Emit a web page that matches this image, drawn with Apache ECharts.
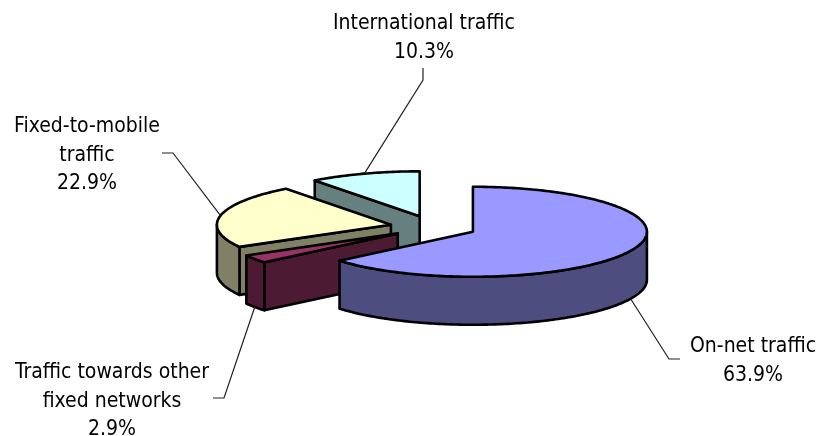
<!DOCTYPE html>
<html><head><meta charset="utf-8">
<style>html,body{margin:0;padding:0;background:#fff}#c{width:821px;height:436px}</style>
<script src="https://cdn.jsdelivr.net/npm/echarts@6/dist/echarts.min.js"></script>
</head><body><div id="c"></div>
<script>
// Data, clockwise from 12 o'clock
const categories = ['On-net traffic', 'Traffic towards other\nfixed networks', 'Fixed-to-mobile\ntraffic', 'International traffic'];
const shares = [63.9, 2.9, 22.9, 10.3];

// Styles and layout
const topColors = ['#9999FF', '#993366', '#FFFFCC', '#CCFFFF'];
const sideColors = ['#4D4D80', '#4D1A33', '#808066', '#668080'];
const labelCentres = [[753, 346.5], [112, 372.5], [87, 126.5], [424, 23.5]];
const elbows = [[[669, 359], [680, 359]], [[224, 398], [213, 398]], [[173, 153], [162, 153]], [[423, 80], [423, 68]]];
const drawOrder = [3, 2, 1, 0];
const CX = 433.5, CY = 227, RX = 174, RY = 45, DEPTH = 48, EXPLODE = 0.25;
const FONT = '21px "DejaVu Sans Condensed", "DejaVu Sans", sans-serif', LINE_H = 28.7;

const total = shares.reduce((a, b) => a + b, 0);
let acc = 0;
const slices = shares.map((v, i) => {
  const a = acc / total * 360; acc += v; const b = acc / total * 360;
  const m = (a + b) / 2;
  return { i, a, b, m, ax: CX + EXPLODE * RX * sinD(m), ay: CY - EXPLODE * RY * cosD(m) };
});
function sinD(d) { return Math.sin(d * Math.PI / 180); }
function cosD(d) { return Math.cos(d * Math.PI / 180); }
function rim(s, d, dz) { return [s.ax + RX * sinD(d), s.ay - RY * cosD(d) + (dz || 0)]; }
function arc(s, from, to, dz) {
  const pts = [], n = Math.max(1, Math.ceil(Math.abs(to - from)));
  for (let k = 0; k <= n; k++) pts.push(rim(s, from + (to - from) * k / n, dz));
  return pts;
}
function poly(points, fill, z2) {
  return { type: 'polygon', z2, shape: { points }, style: { fill, stroke: '#000', lineWidth: 2.6, lineJoin: 'round' } };
}
function radial(s, d, fill, z2) {
  const p = rim(s, d);
  return poly([[s.ax, s.ay], p, [p[0], p[1] + DEPTH], [s.ax, s.ay + DEPTH]], fill, z2);
}

function renderItem(params, api) {
  const s = slices[api.value(0)], rank = params.dataIndex * 10, kids = [];
  if (sinD(s.a) < -1e-6) kids.push(radial(s, s.a, sideColors[s.i], rank + 1));
  if (sinD(s.b) > 1e-6) kids.push(radial(s, s.b, sideColors[s.i], rank + 1));
  const f = Math.max(s.a, 90), t = Math.min(s.b, 270);
  if (t > f) kids.push(poly(arc(s, f, t, 0).concat(arc(s, t, f, DEPTH)), sideColors[s.i], rank + 2));
  kids.push(poly([[s.ax, s.ay]].concat(arc(s, s.a, s.b, 0)), topColors[s.i], rank + 3));
  // leader and label
  const front = cosD(s.m) < 0;
  const anchor = rim(s, s.m, front ? DEPTH : 0);
  kids.push({ type: 'polyline', z2: 100, shape: { points: [anchor].concat(elbows[s.i]) },
    style: { fill: null, stroke: '#222', lineWidth: 1.2 } });
  const c = labelCentres[s.i];
  kids.push({ type: 'text', z2: 101, style: {
    x: c[0], y: c[1] - LINE_H / 2, text: categories[s.i] + '\n' + shares[s.i].toFixed(1) + '%',
    font: FONT, lineHeight: LINE_H, fill: '#000', align: 'center', verticalAlign: 'top' } });
  return { type: 'group', children: kids };
}

const chart = echarts.init(document.getElementById('c'), null, { renderer: 'canvas' });
chart.setOption({
  animation: false,
  backgroundColor: '#fff',
  series: [{ type: 'custom', coordinateSystem: 'none', renderItem, silent: true,
    data: drawOrder.map(i => ({ name: categories[i], value: [i, shares[i]] })) }]
});
</script></body></html>
